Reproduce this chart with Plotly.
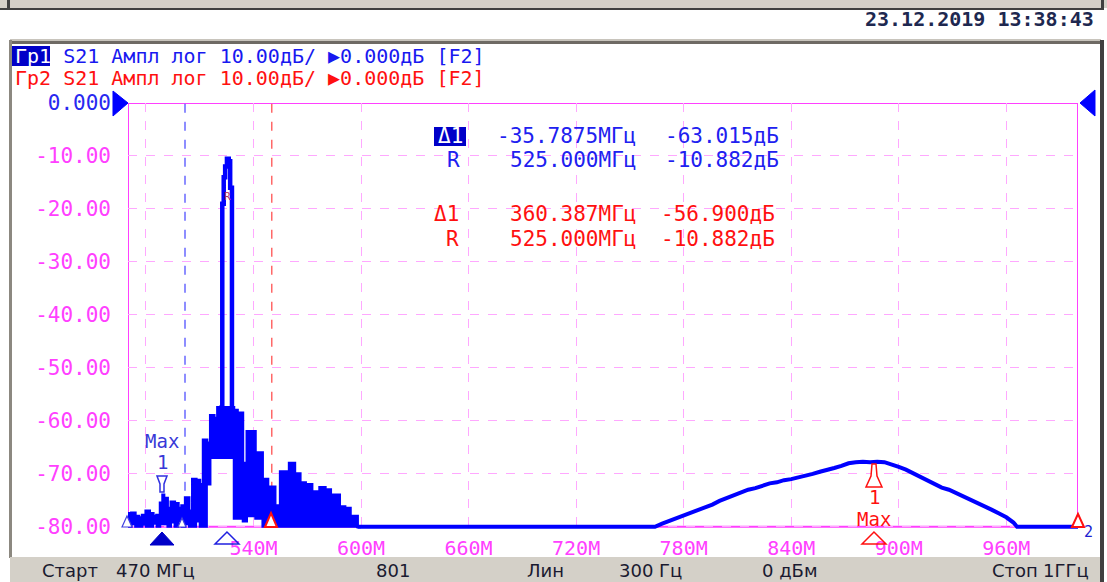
import plotly.graph_objects as go

# S21 trace, 470 MHz .. 1 GHz (dB)
# noisy part near the carrier: upper / lower edge of the trace
noise_freq = [470, 472, 474, 476, 478, 480, 482, 484, 486, 488, 489.4, 490, 492, 494,
              496, 498, 500, 502, 504, 506, 508, 510, 512, 514, 516, 518, 520, 529,
              531, 534, 536.4, 541, 545, 548, 552, 555, 560, 563, 566, 569, 572.6, 577,
              580, 583, 588, 591, 594, 598, 600]
noise_top = [-77.5, -77.4, -78.0, -78.3, -77.8, -77.0, -77.5, -78.0, -77.8, -75.5, -74.0,
             -74.6, -76.5, -75.3, -75.6, -76.5, -76.0, -74.5, -77.0, -71.0, -71.2, -72.0,
             -63.6, -64.2, -59.0, -59.5, -57.5, -58.0, -58.5, -68.0, -62.0, -66.0, -71.0,
             -72.5, -76.0, -69.6, -68.0, -70.0, -71.7, -72.0, -73.4, -72.6, -73.0, -74.0,
             -76.2, -76.5, -78.0, -80.0, -80.0]
noise_bottom = [-80, -79.5, -80, -80, -79.6, -80, -80, -79.4, -80, -79.5, -79, -79.5, -80,
                -79.2, -80, -79, -80, -79.5, -80, -80, -79, -80, -80, -72, -67, -67, -67,
                -78.5, -78.5, -79, -78, -78.5, -80, -79.5, -80, -80, -80, -80, -80, -80,
                -80, -80, -80, -80, -80, -80, -80, -80, -80]

# carrier spike
spike_freq = [521, 522.6, 523.4, 524.2, 525.2, 526.2, 527.0, 528.0]
spike_db = [-57.5, -19.0, -14.0, -12.0, -10.5, -11.0, -16.0, -58.0]

# floor and the wide hump around 885 MHz
hump_freq = [598, 764, 768, 772, 776, 780, 784, 788, 792, 796, 800, 804, 808, 812, 816,
             820, 824, 828, 832, 836, 840, 844, 848, 852, 856, 860, 864, 868, 872, 876,
             880, 884, 888, 892, 896, 900, 904, 908, 912, 916, 920, 924, 928, 932, 936,
             940, 944, 948, 952, 956, 960, 964, 966, 1000]
hump_db = [-80.0, -80.0, -79.4, -78.9, -78.3, -77.9, -77.2, -76.9, -76.2, -75.8, -75.1,
           -74.6, -74.0, -73.6, -73.0, -72.7, -72.3, -71.8, -71.6, -71.2, -71.0, -70.7,
           -70.3, -70.0, -69.6, -69.3, -68.9, -68.5, -68.0, -67.8, -67.7, -67.8, -67.7,
           -67.8, -68.2, -68.7, -69.2, -69.9, -70.5, -71.2, -71.9, -72.6, -73.0, -73.6,
           -74.3, -74.9, -75.6, -76.2, -76.8, -77.5, -78.2, -79.2, -80.0, -80.0]

y_ticks = [0, -10, -20, -30, -40, -50, -60, -70, -80]
y_labels = ["0.000", "-10.00", "-20.00", "-30.00", "-40.00", "-50.00", "-60.00", "-70.00", "-80.00"]
x_ticks = [480, 540, 600, 660, 720, 780, 840, 900, 960]
x_labels = ["", "540M", "600M", "660M", "720M", "780M", "840M", "900M", "960M"]

blue_cursor = 501.8
red_cursor = 550.2

BLUE = "#0000FF"
RED = "#FF1010"
PINK = "#FF40FF"
GRID = "#FFA8FF"
MONO = "DejaVu Sans Mono"
SANS = "DejaVu Sans"

# plot area in pixels
L, R, T, B = 128, 1078, 103, 530


def px(x):
    return (x - L) / (R - L)


def py(y):
    return (B - y) / (B - T)


def path(points):
    return "M " + " L ".join(f"{px(a):.5f},{py(b):.5f}" for a, b in points) + " Z"


fig = go.Figure()

fig.add_trace(go.Scatter(x=noise_freq, y=noise_bottom, mode="lines",
                         line=dict(color=BLUE, width=2, shape="hv"), hoverinfo="skip"))
fig.add_trace(go.Scatter(x=noise_freq, y=noise_top, mode="lines", fill="tonexty",
                         fillcolor=BLUE, line=dict(color=BLUE, width=3, shape="hv"),
                         hoverinfo="skip"))
fig.add_trace(go.Scatter(x=spike_freq, y=spike_db, mode="lines",
                         line=dict(color=BLUE, width=4.5, shape="hv"), hoverinfo="skip"))
fig.add_trace(go.Scatter(x=hump_freq, y=hump_db, mode="lines",
                         line=dict(color=BLUE, width=4), hoverinfo="skip"))

shapes = []


def rect(x0, y0, x1, y1, color):
    shapes.append(dict(type="rect", xref="paper", yref="paper", x0=px(x0), x1=px(x1),
                       y0=py(y1), y1=py(y0), fillcolor=color, line_width=0, layer="below"))


# window chrome
rect(0, 0, 1107, 8, "#D4D0C8")
rect(0, 8, 1104, 10, "#404040")
rect(7, 0, 10, 10, "#404040")
rect(1101, 0, 1104, 10, "#404040")
rect(10, 39, 1101, 41, "#C8C4BC")
rect(10, 41, 1101, 44, "#6E6A64")
rect(9, 40, 12, 558, "#8C8880")
rect(1100, 40, 1104, 582, "#404040")
rect(10, 557, 1100, 582, "#D4D0C8")
rect(12, 46, 50, 66, "#0000C8")
rect(434, 127, 466, 146, "#0000C8")

# graticule frame
for x0, y0, x1, y1 in [(470, 0, 1000, 0), (470, -80, 1000, -80), (470, -80, 470, 0), (1000, -80, 1000, 0)]:
    shapes.append(dict(type="line", x0=x0, y0=y0, x1=x1, y1=y1, xref="x", yref="y",
                       line=dict(color=PINK, width=2), layer="below"))

# marker cursors
shapes.append(dict(type="line", x0=blue_cursor, x1=blue_cursor, y0=-80, y1=0, xref="x", yref="y",
                   line=dict(color="#6868FF", width=1.5, dash="dash"), layer="below"))
shapes.append(dict(type="line", x0=red_cursor, x1=red_cursor, y0=-80, y1=0, xref="x", yref="y",
                   line=dict(color="#FF6868", width=1.5, dash="dash"), layer="below"))


def glyph(points, line, fill, width=1.5):
    shapes.append(dict(type="path", xref="paper", yref="paper", path=path(points),
                       line=dict(color=line, width=width), fillcolor=fill, layer="above"))


glyph([(113, 91), (128, 103), (113, 116)], BLUE, BLUE, 1)
glyph([(1095, 90), (1080, 103), (1095, 116)], BLUE, BLUE, 1)
glyph([(157, 476), (167, 476), (164, 484), (164, 492), (160, 492), (160, 484)], "#3030E0", "white")
glyph([(872, 464), (876, 464), (877, 476), (882, 487), (866, 487), (871, 476)], RED, "white")
glyph([(150, 545), (162, 532), (174, 545)], "#0000C8", "#0000C8", 1)
glyph([(215, 544), (227, 532), (239, 544)], "#2020E0", "rgba(0,0,0,0)")
glyph([(862, 544), (874, 532), (886, 544)], RED, "rgba(0,0,0,0)")
glyph([(265, 527), (271, 513), (277, 527)], RED, "white", 2)
glyph([(1072, 527), (1078, 514), (1084, 527)], RED, "white", 2)
glyph([(122, 527), (127, 516), (132, 527)], "#4040E0", "white", 1.2)
glyph([(178, 527), (182, 518), (186, 527)], "#4040E0", "white", 1.2)

annotations = []


def text(s, x, y, color, size=20, anchor="left", family=MONO, bold=False):
    if bold:
        s = "<b>" + s + "</b>"
    annotations.append(dict(text=s, x=px(x), y=py(y), xref="paper", yref="paper",
                            xanchor=anchor, yanchor="middle", showarrow=False,
                            font=dict(color=color, size=size, family=family)))


text("23.12.2019 13:38:43", 1096, 19, "#1E2850", 20, "right", bold=True)
text("<span style='color:white'>Гр1</span> S21 Ампл лог 10.00дБ/ ▶0.000дБ [F2]", 13, 56, "#1818F0")
text("Гр2 S21 Ампл лог 10.00дБ/ ▶0.000дБ [F2]", 13, 78, RED)

text("<span style='color:white'>Δ1</span>", 450, 136, "white", 21, "center")
text("-35.7875МГц", 638, 136, "#2020F0", 21, "right")
text("-63.015дБ", 781, 136, "#2020F0", 21, "right")
text("R", 462, 160, "#2020F0", 21, "right")
text("525.000МГц", 638, 160, "#2020F0", 21, "right")
text("-10.882дБ", 781, 160, "#2020F0", 21, "right")
text("Δ1", 461, 214, RED, 21, "right")
text("360.387МГц", 638, 214, RED, 21, "right")
text("-56.900дБ", 777, 214, RED, 21, "right")
text("R", 461, 239, RED, 21, "right")
text("525.000МГц", 638, 239, RED, 21, "right")
text("-10.882дБ", 777, 239, RED, 21, "right")

text("Max", 162, 441, "#3838D8", 19, "center")
text("1", 162, 462, "#3838D8", 19, "center")
text("1", 874, 497, RED, 19, "center")
text("Max", 874, 519, RED, 19, "center")
text("R", 227, 196, "#B03060", 11, "center")
text("2", 1088, 532, "#2020D0", 15, "center")

STATUS = "#1A1A30"
text("Старт", 40, 570, STATUS, 18, "left", SANS)
text("470 МГц", 114, 570, STATUS, 18, "left", SANS)
text("801", 393, 570, STATUS, 18, "center", SANS)
text("Лин", 545, 570, STATUS, 18, "center", SANS)
text("300 Гц", 650, 570, STATUS, 18, "center", SANS)
text("0 дБм", 790, 570, STATUS, 18, "center", SANS)
text("Стоп", 1040, 570, STATUS, 18, "right", SANS)
text("1ГГц", 1091, 570, STATUS, 18, "right", SANS)

y_text = ["<span style='color:#2828F0'>" + y_labels[0] + "</span>"] + y_labels[1:]

fig.update_layout(
    width=1107, height=582,
    margin=dict(l=L, r=1107 - R, t=T, b=582 - B),
    paper_bgcolor="white", plot_bgcolor="white",
    showlegend=False,
    shapes=shapes, annotations=annotations,
    xaxis=dict(range=[470, 1000], tickvals=x_ticks, ticktext=x_labels,
               showgrid=True, gridcolor=GRID, griddash="dash", gridwidth=1,
               zeroline=False, showline=False, ticks="", ticklabelstandoff=4,
               tickfont=dict(family=MONO, size=20, color=PINK)),
    yaxis=dict(range=[-80.6, 0], tickvals=y_ticks, ticktext=y_text,
               showgrid=True, gridcolor=GRID, griddash="dash", gridwidth=1,
               zeroline=False, showline=False, ticks="", ticklabelstandoff=16,
               tickfont=dict(family=MONO, size=21, color=PINK)),
)

# the page body has a default 8px margin; drop it so the figure sits at the window corner
fig.write_html("out.html", config={"displayModeBar": False},
               post_script="document.body.style.margin='0';document.body.style.overflow='hidden';")
